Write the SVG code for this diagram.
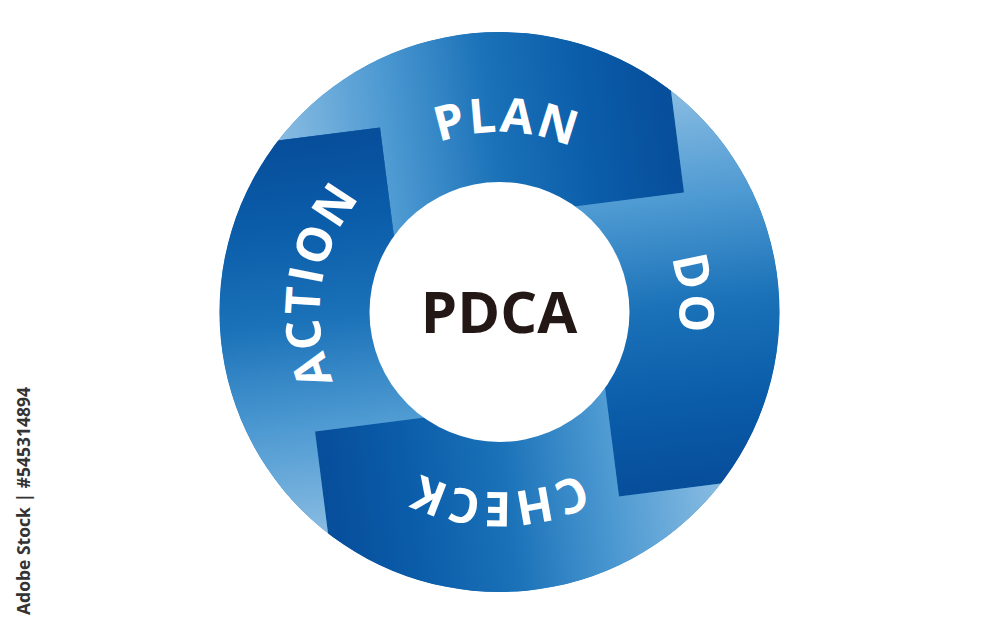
<svg xmlns="http://www.w3.org/2000/svg" xmlns:xlink="http://www.w3.org/1999/xlink" width="1000" height="625" viewBox="0 0 1000 625">
  <defs>
    <linearGradient id="segGrad" gradientUnits="userSpaceOnUse" x1="-220" y1="-120" x2="175" y2="-170">
      <stop offset="0" stop-color="#8cbee3"/>
      <stop offset="0.3" stop-color="#4b98d1"/>
      <stop offset="0.55" stop-color="#1b72b8"/>
      <stop offset="0.8" stop-color="#0a5ca9"/>
      <stop offset="1" stop-color="#074e9b"/>
    </linearGradient>
    <clipPath id="outerClip">
      <circle cx="0" cy="0" r="280"/>
    </clipPath>
    <path id="seg" d="M -101.7 -45.6 L -119.5 -184.5 L -436.9 -143.9 L -440 -440 L 143.9 -436.9 L 184.5 -119.5 L 45.6 -101.7 L 0 0 Z"/>
    <path id="arc" d="M -180 0 A 180 180 0 0 1 180 0"/>
  </defs>
  <style>
    .seg { fill: url(#segGrad); }
    .lbl { font-family: "Open Sans", "Liberation Sans", sans-serif; font-weight: 700; font-size: 48px; fill: #ffffff; letter-spacing: 2px; }
    .center { font-family: "Open Sans", "Liberation Sans", sans-serif; font-weight: 700; font-size: 58px; fill: #231815; }
    .wm { font-family: "Open Sans", "Liberation Sans", sans-serif; font-weight: 700; font-size: 17.5px; fill: #333333; }
  </style>
  <rect width="1000" height="625" fill="#ffffff"/>
  <g transform="translate(499.5,312)" clip-path="url(#outerClip)">
    <circle cx="0" cy="0" r="280" fill="#1a6fb5"/>
    <g id="plan">
      <use href="#seg" class="seg"/>
      <text class="lbl"><textPath href="#arc" startOffset="289.6" text-anchor="middle">PLAN</textPath></text>
    </g>
    <g id="do" transform="rotate(90)">
      <use href="#seg" class="seg"/>
      <text class="lbl"><textPath href="#arc" startOffset="266" text-anchor="middle">DO</textPath></text>
    </g>
    <g id="check" transform="rotate(180)">
      <use href="#seg" class="seg"/>
      <text class="lbl"><textPath href="#arc" startOffset="282.7" text-anchor="middle">CHECK</textPath></text>
    </g>
    <g id="action" transform="rotate(270)">
      <use href="#seg" class="seg"/>
      <text class="lbl"><textPath href="#arc" startOffset="309.5" text-anchor="middle">ACTION</textPath></text>
    </g>
  </g>
  <g id="pdca">
    <circle cx="499.5" cy="312" r="130" fill="#ffffff"/>
    <text class="center" x="499" y="333" text-anchor="middle">PDCA</text>
  </g>
  <text class="wm" transform="translate(30,615) rotate(-90)">Adobe Stock | #545314894</text>
</svg>
